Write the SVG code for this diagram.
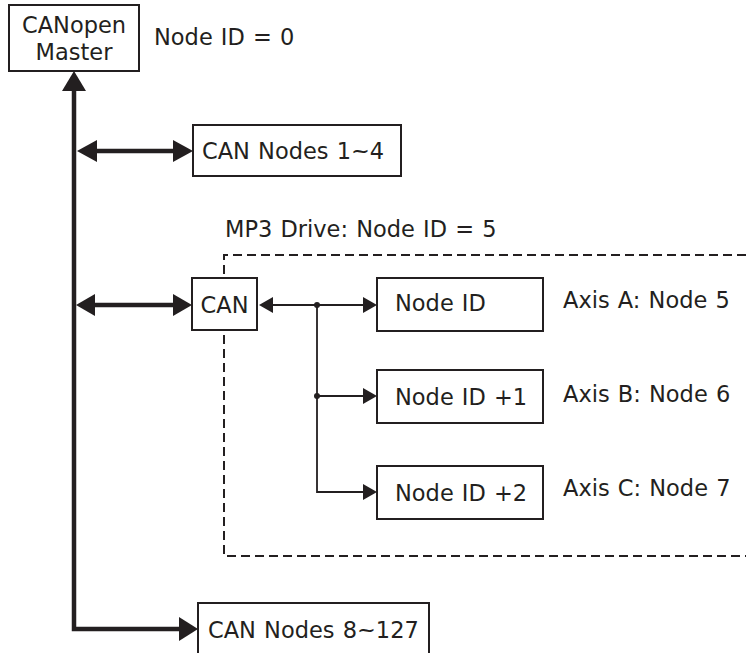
<svg xmlns="http://www.w3.org/2000/svg" width="746" height="653" viewBox="0 0 746 653">
<style>
  text { font-family: "DejaVu Sans", Verdana, sans-serif; font-size: 22.5px; fill: #231f20; word-spacing: 1px; }
  .box { fill: #ffffff; stroke: #231f20; stroke-width: 2; }
  .thick { fill: none; stroke: #231f20; stroke-width: 4.5; }
  .thin { fill: none; stroke: #231f20; stroke-width: 1.8; }
  .dash { fill: none; stroke: #231f20; stroke-width: 2; stroke-dasharray: 9 5; }
  .head { fill: #231f20; stroke: none; }
</style>
<rect width="746" height="653" fill="#ffffff"/>

<g id="drive-boundary">
  <path class="dash" d="M746,255 H224 V556 H746"/>
  <text x="225" y="237">MP3 Drive: Node ID = 5</text>
</g>

<g id="connectors">
  <!-- main bus -->
  <path class="thick" d="M74,88 V629 H182"/>
  <polygon class="head" points="74,71 62,91 86,91"/>
  <polygon class="head" points="198,629 179,617 179,641"/>
  <!-- to CAN Nodes 1~4 -->
  <path class="thick" d="M92,151 H178"/>
  <polygon class="head" points="77,151 97,140 97,162"/>
  <polygon class="head" points="193,151 173,140 173,162"/>
  <!-- to CAN -->
  <path class="thick" d="M92,305 H176"/>
  <polygon class="head" points="76,305 95,294 95,316"/>
  <polygon class="head" points="192,305 173,294 173,316"/>
  <!-- internal -->
  <path class="thin" d="M270,305 H365"/>
  <path class="thin" d="M317,305 V492 H365"/>
  <path class="thin" d="M317,396 H365"/>
  <polygon class="head" points="259,305 273,297 273,313"/>
  <polygon class="head" points="377,305 363,297 363,313"/>
  <polygon class="head" points="377,396 363,388 363,404"/>
  <polygon class="head" points="377,492 363,484 363,500"/>
  <circle class="head" cx="317" cy="305" r="3"/>
  <circle class="head" cx="317" cy="396" r="3"/>
</g>

<g id="master">
  <rect class="box" x="9" y="5" width="130" height="66" stroke-width="1.6"/>
  <text x="74" y="33" text-anchor="middle">CANopen</text>
  <text x="74" y="60" text-anchor="middle">Master</text>
  <text x="154" y="45">Node ID = 0</text>
</g>

<g id="can-nodes-1-4">
  <rect class="box" x="193" y="125" width="208" height="51"/>
  <text x="202" y="159">CAN Nodes 1~4</text>
</g>

<g id="can">
  <rect class="box" x="192" y="278" width="65" height="52"/>
  <text x="224.5" y="313" text-anchor="middle">CAN</text>
</g>

<g id="axis-a">
  <rect class="box" x="377" y="278" width="166" height="53"/>
  <text x="395" y="311">Node ID</text>
  <text x="563" y="308">Axis A: Node 5</text>
</g>

<g id="axis-b">
  <rect class="box" x="377" y="370" width="166" height="53"/>
  <text x="395" y="405">Node ID +1</text>
  <text x="563" y="402">Axis B: Node 6</text>
</g>

<g id="axis-c">
  <rect class="box" x="377" y="466" width="166" height="53"/>
  <text x="395" y="501">Node ID +2</text>
  <text x="563" y="496">Axis C: Node 7</text>
</g>

<g id="can-nodes-8-127">
  <rect class="box" x="198" y="603" width="231" height="54"/>
  <text x="208" y="638">CAN Nodes 8~127</text>
</g>
</svg>
